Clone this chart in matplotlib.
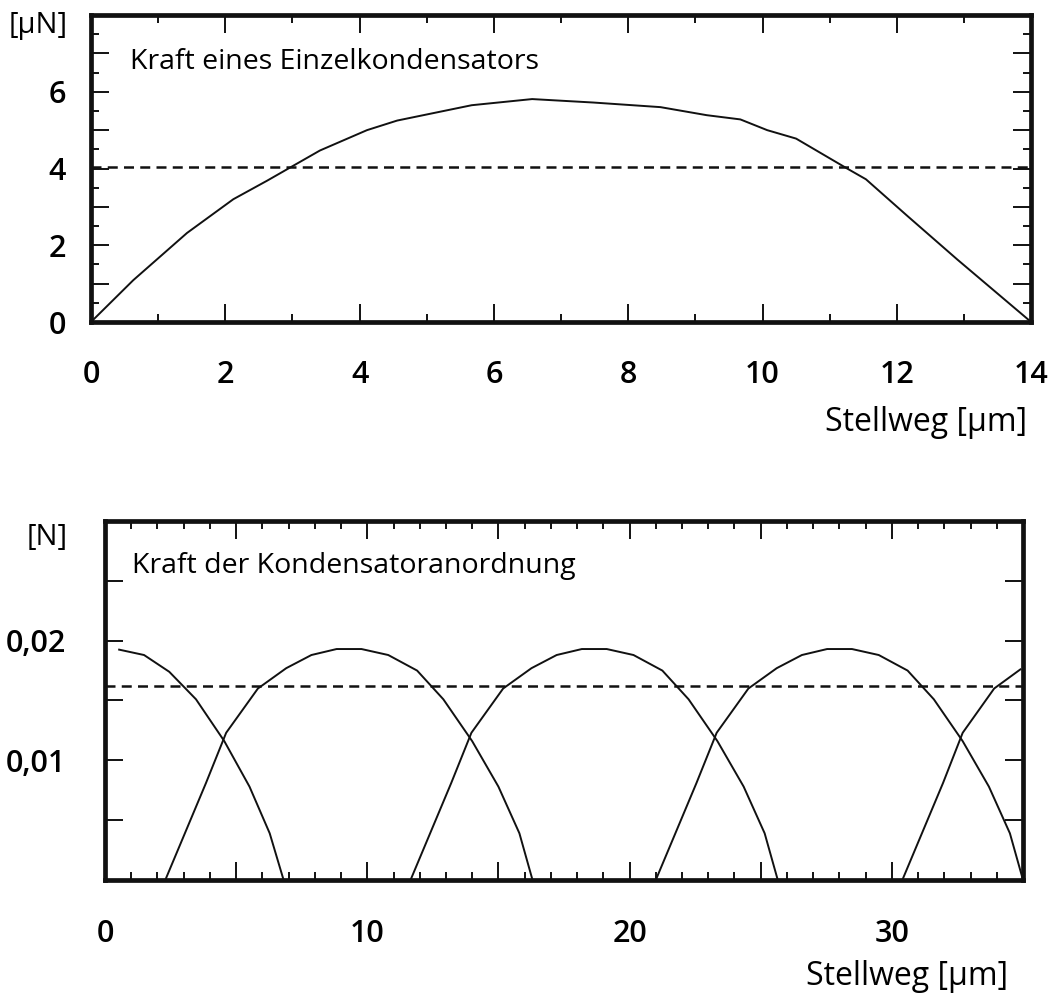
import matplotlib
matplotlib.use("Agg")
import matplotlib.pyplot as plt
from matplotlib.ticker import MultipleLocator, FuncFormatter

plt.rcParams['font.family'] = ['Open Sans', 'DejaVu Sans']

# Kraft eines Einzelkondensators [uN] ueber Stellweg [um]
single_x = [0, 0.63, 1.43, 2.12, 2.62, 2.97, 3.41, 4.11, 4.56, 5.67, 6.57, 7.48,
            8.48, 9.17, 9.67, 10.07, 10.5, 11.26, 11.54, 12.16, 12.9, 14.0]
single_y = [0, 1.09, 2.32, 3.2, 3.68, 4.03, 4.47, 5.0, 5.25, 5.65, 5.81, 5.72,
            5.6, 5.39, 5.28, 5.0, 4.78, 4.0, 3.72, 2.76, 1.63, 0]
single_mean = 4.03

# Kraft der Kondensatoranordnung [N]: ein Bogen (relativer Weg) und seine Startpunkte
arch_x = [0, 1.55, 2.32, 3.53, 4.61, 5.57, 6.53, 7.48, 8.5, 9.6, 10.6, 11.7, 12.7, 13.5, 14.0]
arch_y = [0, 0.0081, 0.0123, 0.0160, 0.0177, 0.0188, 0.0193, 0.0193, 0.0188, 0.0175,
          0.0151, 0.0116, 0.0078, 0.0039, 0]
arch_starts = [2.3, 11.65, 21.0]
# angeschnittene Boegen am Rand
first_x = [0.54, 1.49, 2.45, 3.47, 4.55, 5.51, 6.28, 6.81]
first_y = [0.01925, 0.0188, 0.0174, 0.0151, 0.0116, 0.0078, 0.0039, 0]
last_x = [30.4, 31.95, 32.7, 33.9, 34.9]
last_y = [0, 0.0081, 0.0123, 0.0160, 0.0176]
array_mean = 0.0162

fig = plt.figure(figsize=(10.54, 9.96), dpi=100)
ax1 = fig.add_axes([0.0863, 0.6767, 0.892, 0.3082])
ax2 = fig.add_axes([0.0996, 0.1165, 0.871, 0.3604])

lc = '#111111'

# ---- top plot ----
ax1.plot(single_x, single_y, color=lc, lw=1.4)
ax1.axhline(single_mean, color=lc, lw=1.8, ls=(0, (4, 2.5)))
ax1.set_xlim(0, 14)
ax1.set_ylim(0, 8)
ax1.xaxis.set_major_locator(MultipleLocator(2))
ax1.xaxis.set_minor_locator(MultipleLocator(1))
ax1.yaxis.set_major_locator(MultipleLocator(1))
ax1.yaxis.set_minor_locator(MultipleLocator(0.5))
ax1.yaxis.set_major_formatter(FuncFormatter(
    lambda v, p: '%d' % v if v % 2 == 0 and v < 8 else ''))
ax1.tick_params(axis='x', which='major', pad=27)
ax1.tick_params(axis='y', which='major', pad=18)
ax1.text(0.0415, 0.847, 'Kraft eines Einzelkondensators', transform=ax1.transAxes,
         fontsize=20.5, va='center', ha='left')
ax1.text(-0.056, 0.967, '[µN]', transform=ax1.transAxes, fontsize=21,
         va='center', ha='center')
ax1.text(0.996, -0.329, 'Stellweg [µm]', transform=ax1.transAxes, fontsize=23,
         va='center', ha='right', weight='medium')

# ---- bottom plot ----
ax2.plot(first_x, first_y, color=lc, lw=1.4)
for s in arch_starts:
    ax2.plot([s + v for v in arch_x], arch_y, color=lc, lw=1.4)
ax2.plot(last_x, last_y, color=lc, lw=1.4)
ax2.axhline(array_mean, color=lc, lw=1.8, ls=(0, (4, 2.5)))
ax2.set_xlim(0, 35)
ax2.set_ylim(0, 0.03)
ax2.xaxis.set_major_locator(MultipleLocator(5))
ax2.xaxis.set_minor_locator(MultipleLocator(1))
ax2.xaxis.set_major_formatter(FuncFormatter(
    lambda v, p: '%d' % v if round(v) % 10 == 0 else ''))
ax2.yaxis.set_major_locator(MultipleLocator(0.005))
ax2.yaxis.set_major_formatter(FuncFormatter(
    lambda v, p: ('%.2f' % v).replace('.', ',') if round(v * 1000) in (10, 20) else ''))
ax2.tick_params(axis='x', which='major', pad=28)
ax2.tick_params(axis='y', which='major', pad=28)
ax2.text(0.0294, 0.875, 'Kraft der Kondensatoranordnung', transform=ax2.transAxes,
         fontsize=20.5, va='center', ha='left')
ax2.text(-0.063, 0.955, '[N]', transform=ax2.transAxes, fontsize=21,
         va='center', ha='center')
ax2.text(0.984, -0.270, 'Stellweg [µm]', transform=ax2.transAxes, fontsize=23,
         va='center', ha='right', weight='medium')

for ax in (ax1, ax2):
    for sp in ax.spines.values():
        sp.set_linewidth(3.4)
        sp.set_color(lc)
    ax.tick_params(which='both', direction='in', top=True, right=True,
                   color=lc, width=1.4)
    ax.tick_params(which='major', length=13, labelsize=22)
    ax.tick_params(which='minor', length=6)
    for lab in ax.get_xticklabels() + ax.get_yticklabels():
        lab.set_fontweight('semibold')

fig.savefig('out.png', dpi=100, facecolor='white')
